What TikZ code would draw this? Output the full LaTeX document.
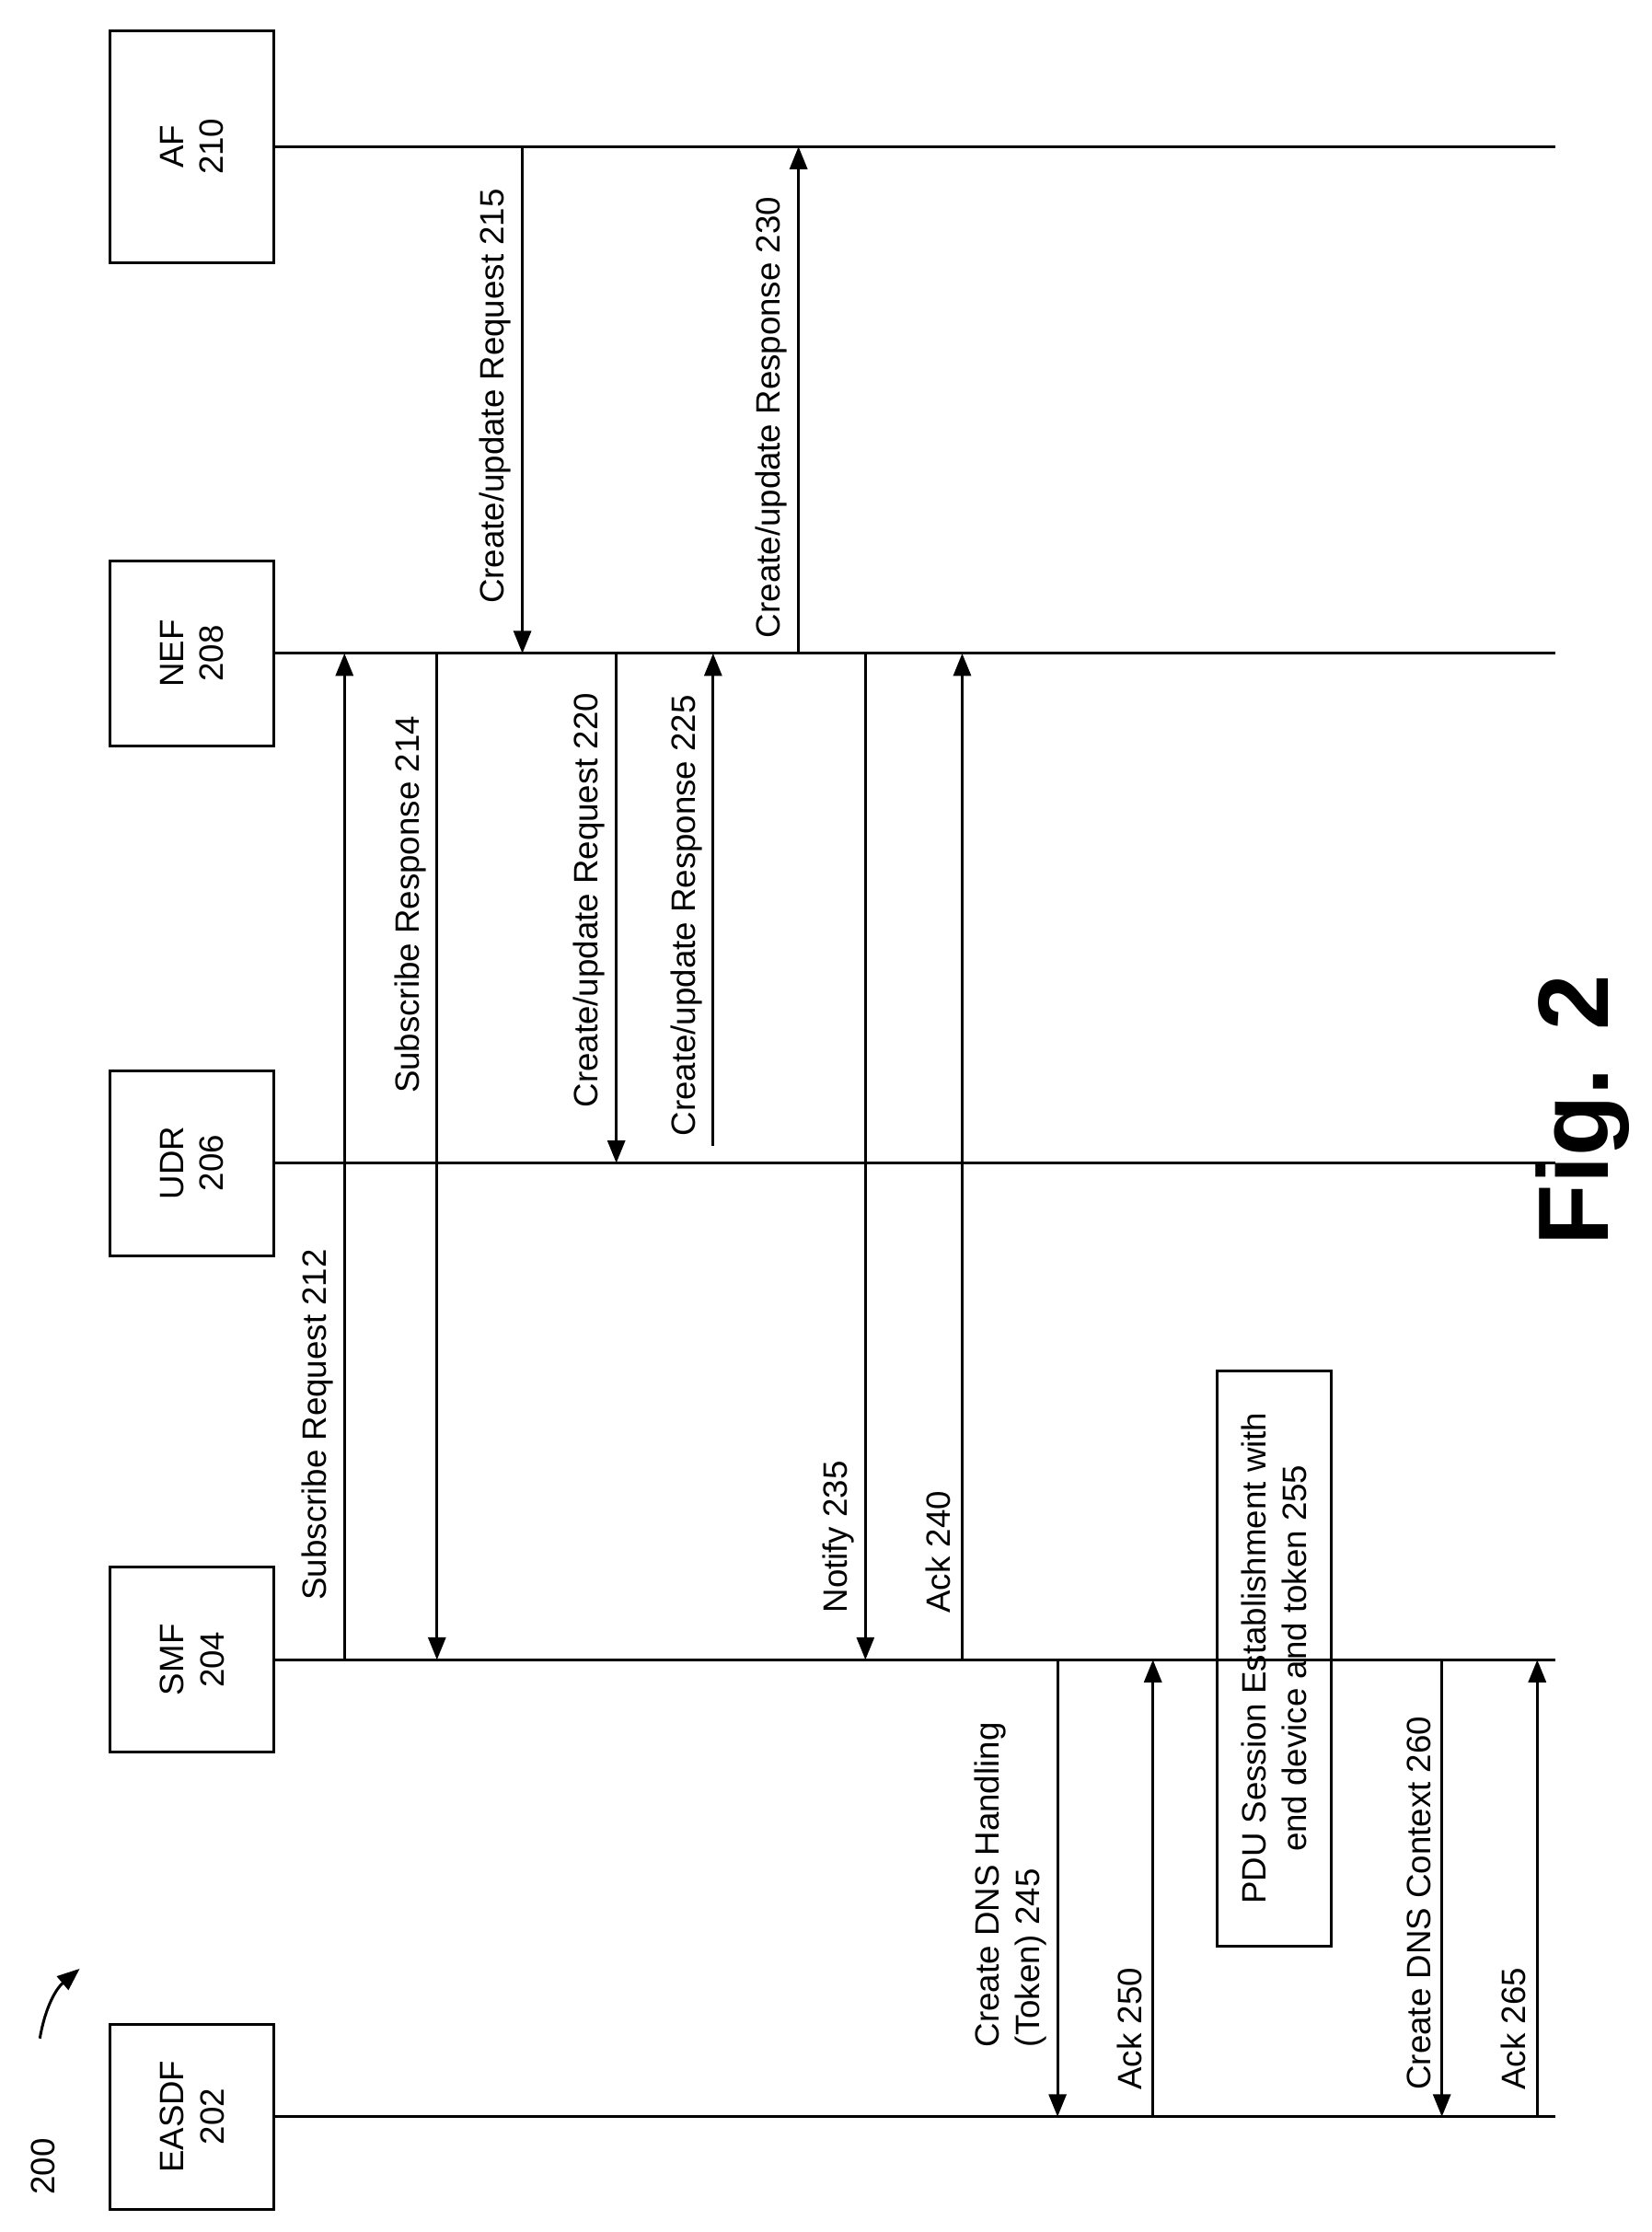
\documentclass[tikz,border=0pt]{standalone}
\usepackage{fontspec}
\setmainfont{Liberation Sans}
\usetikzlibrary{arrows.meta}
\begin{document}
\begin{tikzpicture}[x=0.02cm,y=-0.02cm,
    box/.style={draw,line width=1.1pt,rotate=90,minimum width=2.6cm,minimum height=2.3cm,align=center,font=\fontsize{13.5}{16}\selectfont},
    life/.style={line width=1.1pt},
    msg/.style={line width=1.1pt,-{Triangle[length=9pt,width=7pt]}},
    lbl/.style={rotate=90,anchor=south west,inner sep=2pt,align=left,font=\fontsize{13.5}{16}\selectfont}]
\useasboundingbox (0,0) rectangle (1160,1568);

% entities
\node[box,minimum width=3.26cm] (af) at (135,103) {AF\\210};
\node[box] (nef) at (135,459) {NEF\\208};
\node[box] (udr) at (135,817) {UDR\\206};
\node[box] (smf) at (135,1166) {SMF\\204};
\node[box] (easdf) at (135,1487) {EASDF\\202};
\coordinate (endx) at (1093,0);
\foreach \e in {af,nef,udr,smf,easdf}
  \draw[life] (\e.south) -- (endx |- \e.south);

% messages
\foreach \x/\from/\to in {242/smf/nef, 307/nef/smf, 367/af/nef, 433/nef/udr,
    561/nef/af, 608/nef/smf, 676/smf/nef, 743/smf/easdf, 810/easdf/smf,
    1013/smf/easdf, 1080/easdf/smf}{
  \coordinate (m) at (\x,0);
  \draw[msg] (m |- \from.south) -- (m |- \to.south);
}
\coordinate (m225) at (501,805);
\draw[msg] (m225) -- (m225 |- nef.south);

\node[lbl] (l212) at (238,1128) {Subscribe Request 212};
\node[lbl] (l214) at (303,772) {Subscribe Response 214};
\node[lbl] (l215) at (363,428) {Create/update Request 215};
\node[lbl] (l220) at (429,782) {Create/update Request 220};
\node[lbl] (l225) at (497,802) {Create/update Response 225};
\node[lbl] (l230) at (557,452) {Create/update Response 230};
\node[lbl] (l235) at (604,1137) {Notify 235};
\node[lbl] (l240) at (672,1137) {Ack 240};
\node[lbl] (l245) at (739,1442) {Create DNS Handling\\(Token) 245};
\node[lbl] (l250) at (806,1472) {Ack 250};
\node[lbl] (l260) at (1009,1472) {Create DNS Context 260};
\node[lbl] (l265) at (1076,1472) {Ack 265};

\node[box,minimum width=8.08cm,minimum height=1.6cm] (pdu) at (895,1165)
  {PDU Session Establishment with\\end device and token 255};

\node[rotate=90,font=\fontsize{40}{44}\selectfont\bfseries] (fig) at (1112,780) {Fig. 2};
\node[rotate=90,font=\fontsize{13.5}{16}\selectfont] (num) at (30,1522) {200};
\draw[line width=1.1pt,-{Triangle[length=9pt,width=7pt]}] (28,1432) to[bend left=20] (56,1383);
\end{tikzpicture}
\end{document}
